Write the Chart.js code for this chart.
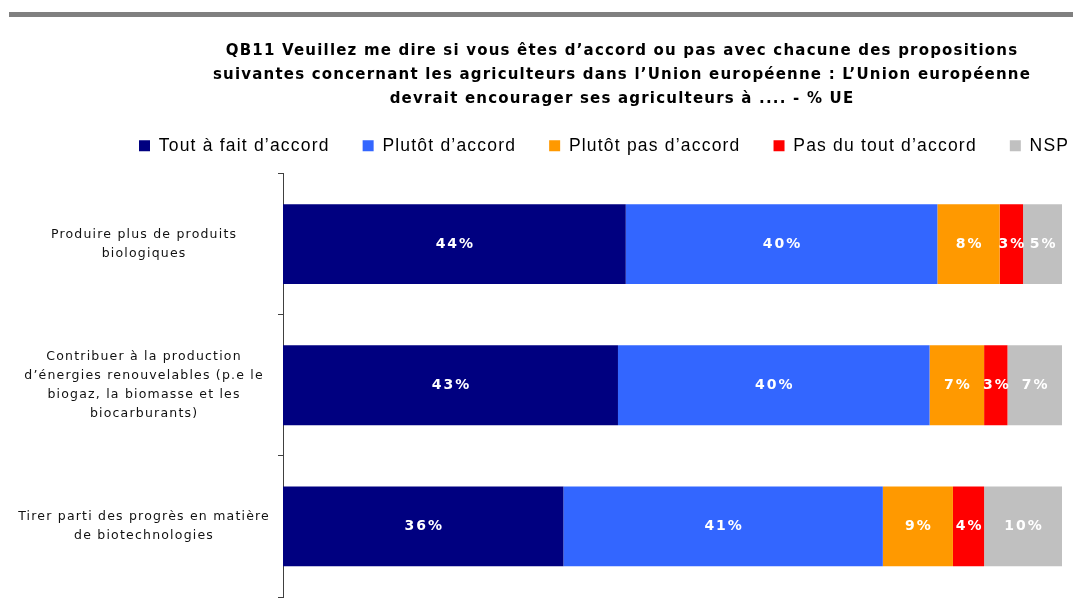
<!DOCTYPE html>
<html>
<head>
<meta charset="utf-8">
<script src="https://cdn.jsdelivr.net/npm/chart.js@4.4.1/dist/chart.umd.min.js"></script>
<style>
  html, body { margin: 0; padding: 0; background: #ffffff; }
  #wrap { position: relative; width: 1073px; height: 607px; overflow: hidden; }
  #topline { position: absolute; left: 9px; top: 12px; width: 1064px; height: 5px; background: #808080; }
  #c { position: absolute; left: 0; top: 0; }
</style>
</head>
<body>
<div id="wrap">
  <div id="topline"></div>
  <canvas id="c" width="1073" height="607"></canvas>
</div>
<script>
// ---- Data ----
const titleLines = [
  "QB11 Veuillez me dire si vous êtes d’accord ou pas avec chacune des propositions",
  "suivantes concernant les agriculteurs dans l’Union européenne : L’Union européenne",
  "devrait encourager ses agriculteurs à .... - % UE"
];
const categories = [
  ["Produire plus de produits", "biologiques"],
  ["Contribuer à la production", "d’énergies renouvelables (p.e le", "biogaz, la biomasse et les", "biocarburants)"],
  ["Tirer parti des progrès en matière", "de biotechnologies"]
];
const seriesNames = ["Tout à fait d’accord", "Plutôt d’accord", "Plutôt pas d’accord", "Pas du tout d’accord", "NSP"];
const toutAFait   = [44, 43, 36];
const plutot      = [40, 40, 41];
const plutotPas   = [8, 7, 9];
const pasDuTout   = [3, 3, 4];
const nsp         = [5, 7, 10];
const seriesColors = ["#000080", "#3366FF", "#FF9900", "#FF0000", "#C0C0C0"];

const seriesValues = [toutAFait, plutot, plutotPas, pasDuTout, nsp];

// ---- Plugins ----
const textSpacing = {
  id: 'textSpacing',
  beforeUpdate(chart, args, opts) { chart.ctx.letterSpacing = opts.value; },
  beforeDraw(chart, args, opts) { chart.ctx.letterSpacing = opts.value; }
};

const boxShift = {
  id: 'boxShift',
  afterLayout(chart, args, opts) {
    const shiftBox = (b, dx, dy) => {
      if (!b) return;
      b.left += dx; b.right += dx; b.top += dy; b.bottom += dy;
    };
    shiftBox(chart.titleBlock, opts.titleDx, opts.titleDy);
    shiftBox(chart.legend, opts.legendDx, opts.legendDy);
  }
};

const valueLabels = {
  id: 'valueLabels',
  afterDatasetsDraw(chart) {
    const ctx = chart.ctx;
    ctx.save();
    ctx.font = "bold 14px 'DejaVu Sans'";
    ctx.letterSpacing = '2px';
    ctx.fillStyle = '#FFFFFF';
    ctx.textAlign = 'center';
    ctx.textBaseline = 'middle';
    chart.data.datasets.forEach((ds, di) => {
      const meta = chart.getDatasetMeta(di);
      meta.data.forEach((el, i) => {
        const v = ds.data[i];
        const cx = (el.x + el.base) / 2;
        ctx.fillText(v + '%', cx + 1, el.y);
      });
    });
    ctx.restore();
  }
};

new Chart(document.getElementById('c'), {
  type: 'bar',
  data: {
    labels: categories,
    datasets: seriesNames.map((name, i) => ({
      label: name,
      data: seriesValues[i],
      backgroundColor: seriesColors[i],
      borderWidth: 0,
      categoryPercentage: 1.0,
      barPercentage: 0.566
    }))
  },
  options: {
    indexAxis: 'y',
    responsive: false,
    devicePixelRatio: 1,
    animation: false,
    layout: { padding: { left: 0, right: 11, top: 0, bottom: 10 } },
    scales: {
      x: {
        stacked: true,
        min: 0,
        max: 100,
        display: false
      },
      y: {
        stacked: true,
        afterFit(scale) {
          scale.width = 283;
          scale.paddingTop = 0;
          scale.paddingBottom = 0;
        },
        grid: {
          display: true,
          drawOnChartArea: false,
          drawTicks: true,
          tickLength: 5,
          offset: true,
          color: '#404040'
        },
        border: { display: true, color: '#404040', width: 1 },
        ticks: {
          crossAlign: 'center',
          padding: 8,
          color: '#111111',
          font: { family: "'DejaVu Sans'", size: 12.5, lineHeight: 1.5 }
        }
      }
    },
    plugins: {
      textSpacing: { value: '1.2px' },
      title: {
        display: true,
        text: titleLines,
        color: '#000000',
        font: { family: "'DejaVu Sans'", size: 15, weight: 'bold', lineHeight: 1.6 },
        padding: { top: 41, bottom: 0 }
      },
      legend: {
        display: true,
        position: 'top',
        align: 'start',
        labels: {
          boxWidth: 11,
          boxHeight: 11,
          padding: 33,
          color: '#000000',
          font: { family: "'Liberation Sans'", size: 17.5 }
        }
      },
      tooltip: { enabled: false },
      boxShift: { titleDx: 91, titleDy: -2, legendDx: 106, legendDy: -9 }
    }
  },
  plugins: [textSpacing, boxShift, valueLabels]
});
</script>
</body>
</html>
